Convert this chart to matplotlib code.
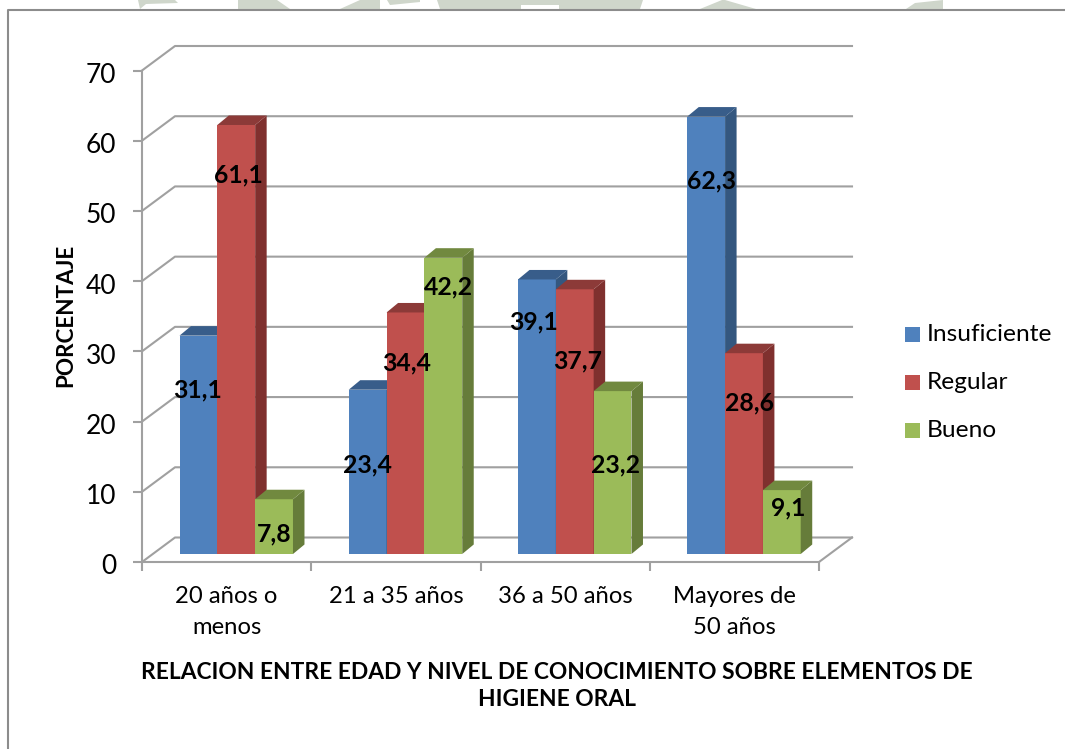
import numpy as np
import matplotlib
matplotlib.use('Agg')
import matplotlib.pyplot as plt
from matplotlib.patches import Polygon
from matplotlib.transforms import ScaledTranslation

plt.rcParams['font.family'] = ['Lato', 'DejaVu Sans']

# Data
categories = ['20 años o\nmenos', '21 a 35 años', '36 a 50 años', 'Mayores de\n50 años']
insuficiente = [31.1, 23.4, 39.1, 62.3]
regular = [61.1, 34.4, 37.7, 28.6]
bueno = [7.8, 42.2, 23.2, 9.1]
y_ticks = [0, 10, 20, 30, 40, 50, 60, 70]

W, H = 1065, 749
fig = plt.figure(figsize=(W / 100, H / 100), dpi=100)

# Faint watermark showing above the frame
blobs = [
    [(138, 0), (175, 0), (178, 3), (146, 4), (140, 9)],
    [(238, 0), (277, 0), (290, 9), (238, 9)],
    [(360, 0), (380, 0), (380, 9), (340, 9)],
    [(387, 0), (420, 0), (420, 2), (390, 5)],
    [(437, 0), (643, 0), (640, 9), (559, 9), (559, 5), (521, 5), (521, 9), (440, 9)],
    [(700, 9), (722, 0), (725, 0), (756, 9)],
    [(906, 9), (915, 3), (943, 0), (943, 9)],
]
for b in blobs:
    fig.add_artist(Polygon([(x / W, 1 - y / H) for x, y in b], color='#cfd6cb', lw=0, transform=fig.transFigure))

# Axes placed so that the front plane of the chart lands on the right pixels
left, right, top, bottom = 142, 819, 70.5, 562
ax = fig.add_axes([left / W, 1 - bottom / H, (right - left) / W, (bottom - top) / H])
ax.set_xlim(0, 4)
ax.set_ylim(0, 70)
ax.patch.set_alpha(0)

px_x = 4 / (right - left)
px_y = 70 / (bottom - top)

# Walls and floor
grid = '#a0a0a0'
wall_dx, wall_dy = 33 * px_x, 24.5 * px_y
for t in y_ticks:
    ax.plot([0, wall_dx, 4 + wall_dx], [t, t + wall_dy, t + wall_dy], color=grid, lw=1.5, clip_on=False, zorder=1)
ax.plot([4, 4 + wall_dx], [0, wall_dy], color=grid, lw=1.5, clip_on=False, zorder=1)

# Bars
bar_w = 0.2235
base = 8 * px_y
off = 37.5 * px_x
depth_x, depth_y = 11.5 * px_x, 9.5 * px_y
series = [
    (insuficiente, '#4f81bd', '#385d8a', '#34577f', 'Insuficiente'),
    (regular, '#c0504d', '#8c3a38', '#7f302e', 'Regular'),
    (bueno, '#9bbb59', '#71893f', '#667c3a', 'Bueno'),
]
for c in range(len(categories)):
    for s, (vals, col, top_col, side_col, name) in enumerate(series):
        x0 = c + off + s * bar_w
        x1 = x0 + bar_w
        v = vals[c]
        z = 3 + c * 3 + s
        # the value of the bar starts at the bar's foot, not at the front axis
        ax.bar(x0, v, bar_w, bottom=base, align='edge', color=col, zorder=z, clip_on=False)
        ax.add_patch(Polygon([(x1, base), (x1 + depth_x, base + depth_y), (x1 + depth_x, base + v + depth_y), (x1, base + v)],
                             color=side_col, lw=0, zorder=z, clip_on=False))
        ax.add_patch(Polygon([(x0, base + v), (x0 + depth_x, base + v + depth_y), (x1 + depth_x, base + v + depth_y), (x1, base + v)],
                             color=top_col, lw=0, zorder=z, clip_on=False))

# Value labels (hand placed like in the original)
label_pos = {
    0: [(198, 390), (238, 175), (274, 534)],
    1: [(368, 465), (407, 363), (448, 287)],
    2: [(534, 322), (578, 361), (616, 465)],
    3: [(712, 181), (749, 403), (788, 508)],
}
for c, places in label_pos.items():
    for s, (px, py) in enumerate(places):
        v = series[s][0][c]
        ax.text((px - left) * px_x, (bottom - py) * px_y, f'{v:.1f}'.replace('.', ','), ha='center', va='center',
                fontsize=17.8, fontweight='bold', color='black', zorder=30, clip_on=False)

# Axes look
for name in ['top', 'right']:
    ax.spines[name].set_visible(False)
for name in ['left', 'bottom']:
    ax.spines[name].set_color(grid)
    ax.spines[name].set_linewidth(1.5)
    ax.spines[name].set_zorder(2)
ax.set_yticks(y_ticks)
ax.set_xticks(range(5))
ax.set_xticklabels([])
ax.tick_params(axis='both', color=grid, width=1.5, length=6.5, direction='out', labelsize=19)
ax.tick_params(axis='y', pad=12)
# the tick numbers sit a little lower than their ticks
shift = ScaledTranslation(0, -2.5 / 100, fig.dpi_scale_trans)
for lab in ax.get_yticklabels():
    lab.set_transform(lab.get_transform() + shift)
for i, lab in enumerate(categories):
    ax.text(i + 0.5, -3.45, lab, ha='center', va='top', fontsize=17.2, linespacing=1.56, clip_on=False)

ax.set_ylabel('PORCENTAJE', fontsize=16.2, fontweight='bold', va='center')
ax.yaxis.set_label_coords((66 - left) / (right - left), (bottom - 315) / (bottom - top))

fig.text(557 / W, 1 - 686 / H, 'RELACION ENTRE EDAD Y NIVEL DE CONOCIMIENTO SOBRE ELEMENTOS DE\nHIGIENE ORAL',
         ha='center', va='center', fontsize=16.4, fontweight='bold', linespacing=1.41)

# Legend
for s, (vals, col, top_col, side_col, name) in enumerate(series):
    ly = 334.5 + s * 48
    fig.add_artist(plt.Rectangle((905 / W, 1 - (ly + 7.5) / H), 15 / W, 15 / H, color=col, lw=0, transform=fig.transFigure))
    fig.text(927 / W, 1 - ly / H, name, ha='left', va='center', fontsize=17.6)

# Frame of the chart area (no right and bottom edges in the crop)
fig.add_artist(plt.Line2D([8 / W, 8 / W, 1], [0, 1 - 10 / H, 1 - 10 / H], color='#8c8c8c', lw=1.5))

fig.savefig('out.png', dpi=100)
